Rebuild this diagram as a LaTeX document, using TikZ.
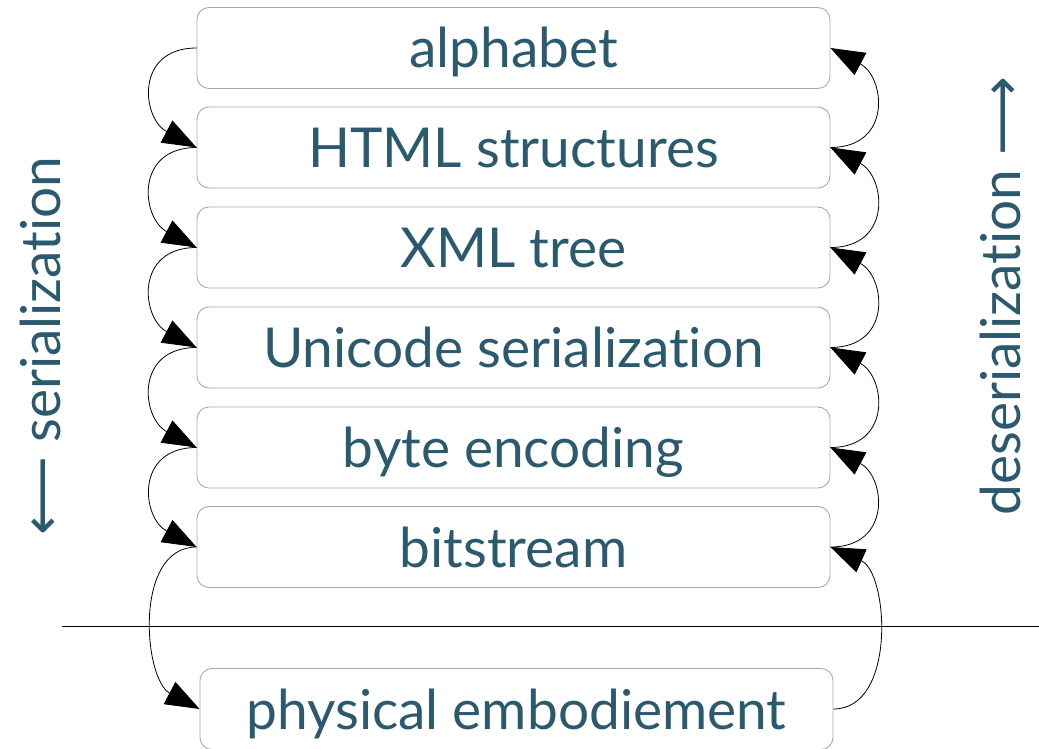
\documentclass[tikz,border=0pt]{standalone}
\usepackage{fontspec}
\setmainfont{Lato}[Ligatures={NoCommon,NoRare}]
\newfontfamily\symfont{DejaVu Sans}
\usetikzlibrary{arrows.meta}
\definecolor{txtblue}{HTML}{2B5A6F}
\definecolor{boxgray}{HTML}{AAAAAA}
\tikzset{
  layerbox/.style={draw=boxgray, line width=0.9pt, rounded corners=12pt,
    minimum width=633pt, minimum height=81pt, inner sep=0pt,
    text height=52pt, text depth=12pt, text=txtblue,
    font=\fontsize{55}{60}\selectfont},
  sidelabel/.style={text=txtblue, rotate=90, font=\fontsize{55}{60}\selectfont, inner sep=0pt},
  flow/.style={-{Triangle[length=34pt,width=25pt]}, line width=0.8pt, black},
}
\begin{document}
\begin{tikzpicture}[x=1pt,y=-1pt]
\useasboundingbox (0,0) rectangle (1039,749);
\node[layerbox] (b1) at (513.5,48) {alphabet};
\node[layerbox] (b2) at (513.5,147.5) {HTML structures};
\node[layerbox] (b3) at (513.5,247.5) {XML tree};
\node[layerbox] (b4) at (513.5,347.5) {Unicode serialization};
\node[layerbox] (b5) at (513.5,447.5) {byte encoding};
\node[layerbox] (b6) at (513.5,547) {bitstream};
\node[layerbox] (b7) at (516.5,709) {physical embodiement};
\coordinate (ll) at (62,626);
\coordinate (lr) at (1039,626);
\draw[line width=0.8pt] (ll) -- (lr);
\node[sidelabel] (ser) at (40,346) {{\symfont ⟵} serialization};
\node[sidelabel] (deser) at (1000,296) {deserialization {\symfont ⟶}};
\foreach \a/\b in {b1/b2,b2/b3,b3/b4,b4/b5,b5/b6}{
  \draw[flow] (\a.west) to[out=180,in=152,looseness=1.6] (\b.west);
  \draw[flow] (\b.east) to[out=0,in=-28,looseness=1.6] (\a.east);
}
\draw[flow] (b6.west) to[out=180,in=152,looseness=1.0] (b7.west);
\draw[flow] (b7.east) to[out=0,in=-24,looseness=1.0] (b6.east);
\end{tikzpicture}
\end{document}
